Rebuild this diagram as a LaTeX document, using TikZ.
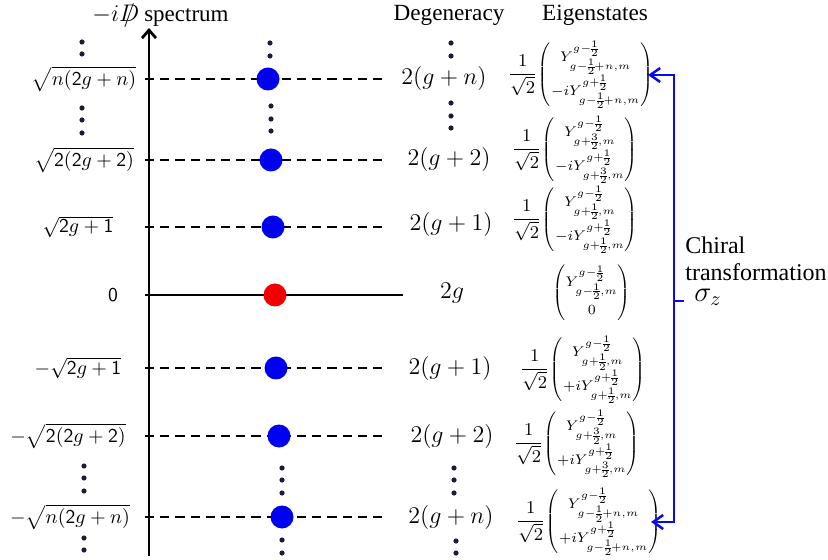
\documentclass[tikz,border=0pt]{standalone}
\usepackage{amsmath}
\usepackage{fontspec}
\setmainfont{Liberation Serif}
\usetikzlibrary{arrows.meta, positioning}
\DeclareMathSizes{6.6}{6.6}{4.6}{3.5}
\definecolor{state-blue}{HTML}{0000F2}
\definecolor{zero-red}{HTML}{F20000}
\definecolor{dot-ink}{HTML}{1C1C34}
\definecolor{chiral-blue}{HTML}{0A0AEE}
\newcommand{\Dslash}{\mathord{\ooalign{$D$\cr\hidewidth$/$\hidewidth\cr}}}
\newcommand{\halfnorm}{\mbox{\fontsize{9.5}{11}\selectfont$\dfrac{1}{\sqrt{2}}$}}
\tikzset{
  axis-edge/.style={line width=1.4pt, -{Straight Barb[length=4pt, width=7pt]}},
  level-line/.style={line width=1pt, dash pattern=on 4.6pt off 3pt},
  zero-line/.style={line width=1pt},
  state-dot/.style={circle, fill=state-blue, minimum size=11.5pt, inner sep=0pt},
  zero-dot/.style={circle, fill=zero-red, minimum size=11.5pt, inner sep=0pt},
  vdot/.style={fill=dot-ink},
  ev-label/.style={font=\fontsize{9.8}{11}\selectfont, inner sep=0pt},
  deg-label/.style={font=\fontsize{12.5}{14}\selectfont, inner sep=0pt},
  col-head/.style={font=\fontsize{11.6}{13}\selectfont, inner sep=0pt},
  eig-state/.style={font=\fontsize{6.6}{8}\selectfont\setlength{\arraycolsep}{0.4pt}%
    \setlength{\nulldelimiterspace}{0pt}\renewcommand{\arraystretch}{1.3},
    inner sep=0pt, anchor=west},
  chiral-edge/.style={line width=1.25pt, draw=chiral-blue,
    {Straight Barb[length=5pt, width=7pt]}-{Straight Barb[length=5pt, width=7pt]}},
  side-note/.style={font=\fontsize{12}{13.5}\selectfont, align=left, inner sep=0pt}
}

\begin{document}
\begin{tikzpicture}[x=0.5pt, y=-0.5pt]
  \useasboundingbox (0,0) rectangle (828,560);

  % ---- Axis and headings ---------------------------------------------------
  \coordinate (ax-bot) at (149,556);
  \coordinate (ax-top) at (149,28);
  \draw[axis-edge] (ax-bot) -- (ax-top);
  \node[anchor=base west, inner sep=0pt] (title) at (92,22)
        {{\fontsize{12.5}{14}\selectfont $-i\Dslash$} {\fontsize{11.5}{13}\selectfont spectrum}};
  \node[col-head] (deg) at (449,15) {Degeneracy};
  \node[col-head] (eig) at (595,15) {Eigenstates};

  % ---- Levels (tick on axis, end of line) ----------------------------------
  \coordinate (t-n)  at (145,79);  \coordinate (e-n)  at (386,79);
  \coordinate (t-2)  at (145,160); \coordinate (e-2)  at (383,160);
  \coordinate (t-1)  at (145,227); \coordinate (e-1)  at (383,227);
  \coordinate (t-0)  at (145,295); \coordinate (e-0)  at (403,295);
  \coordinate (t-m1) at (145,368); \coordinate (e-m1) at (383,368);
  \coordinate (t-m2) at (145,436); \coordinate (e-m2) at (383,436);
  \coordinate (t-mn) at (145,517); \coordinate (e-mn) at (384,517);
  \draw[level-line] (t-n) -- (e-n);
  \draw[level-line] (t-2) -- (e-2);
  \draw[level-line] (t-1) -- (e-1);
  \draw[zero-line]  (t-0) -- (e-0);
  \draw[level-line] (t-m1) -- (e-m1);
  \draw[level-line] (t-m2) -- (e-m2);
  \draw[level-line] (t-mn) -- (e-mn);

  % ---- States on the levels ------------------------------------------------
  \node[state-dot] (s-n)  at (268,79)  {};
  \node[state-dot] (s-2)  at (271,160) {};
  \node[state-dot] (s-1)  at (273,227) {};
  \node[zero-dot]  (s-0)  at (275,295) {};
  \node[state-dot] (s-m1) at (276,368) {};
  \node[state-dot] (s-m2) at (279,436) {};
  \node[state-dot] (s-mn) at (282,517) {};

  % ---- Eigenvalues (left margin) -------------------------------------------
  \node[ev-label] (v-n)  at (84,79)  {$\sqrt{n(\mathsf{2}g+n)}$};
  \node[ev-label] (v-2)  at (84,160) {$\sqrt{\mathsf{2}(\mathsf{2}g+\mathsf{2})}$};
  \node[ev-label] (v-1)  at (78,227) {$\sqrt{\mathsf{2}g+\mathsf{1}}$};
  \node[ev-label] (v-0)  at (113,295) {$\mathsf{0}$};
  \node[ev-label] (v-m1) at (78,368) {$-\sqrt{\mathsf{2}g+\mathsf{1}}$};
  \node[ev-label] (v-m2) at (68,436) {$-\sqrt{\mathsf{2}(\mathsf{2}g+\mathsf{2})}$};
  \node[ev-label] (v-mn) at (70,517) {$-\sqrt{n(\mathsf{2}g+n)}$};

  % ---- Degeneracies --------------------------------------------------------
  \node[deg-label] (d-n)  at (444,79)  {$2(g+n)$};
  \node[deg-label] (d-2)  at (449,160) {$2(g+2)$};
  \node[deg-label] (d-1)  at (451,225) {$2(g+1)$};
  \node[deg-label] (d-0)  at (452,293) {$2g$};
  \node[deg-label] (d-m1) at (450,368) {$2(g+1)$};
  \node[deg-label] (d-m2) at (452,436) {$2(g+2)$};
  \node[deg-label] (d-mn) at (451,517) {$2(g+n)$};

  % ---- Vertical ellipsis dots ----------------------------------------------
  \foreach \x/\y in {82/42, 82/54, 82/108, 82/120, 82/133, 84/466, 84/478,
                     84/491, 84/538, 84/550, 270/43, 270/56, 271/106, 271/119,
                     271/131, 282/468, 282/480, 282/493, 282/540, 282/553,
                     451/43, 451/56, 451/103, 451/116, 451/128, 454/468,
                     454/480, 454/493, 456/541, 456/553}
    \fill[vdot] (\x,\y) circle (2.6);

  % ---- Eigenstates ---------------------------------------------------------
  \node[eig-state] (es-n) at (510,75)
        {$\halfnorm\begin{pmatrix} Y^{g-\frac{1}{2}}_{g-\frac{1}{2}+n,m}\\ -iY^{g+\frac{1}{2}}_{g-\frac{1}{2}+n,m}\end{pmatrix}$};
  \node[eig-state] (es-2) at (514,150)
        {$\halfnorm\begin{pmatrix} Y^{g-\frac{1}{2}}_{g+\frac{3}{2},m}\\ -iY^{g+\frac{1}{2}}_{g+\frac{3}{2},m}\end{pmatrix}$};
  \node[eig-state] (es-1) at (514,220)
        {$\halfnorm\begin{pmatrix} Y^{g-\frac{1}{2}}_{g+\frac{1}{2},m}\\ -iY^{g+\frac{1}{2}}_{g+\frac{1}{2},m}\end{pmatrix}$};
  \node[eig-state] (es-0) at (552,293)
        {$\begin{pmatrix} Y^{g-\frac{1}{2}}_{g-\frac{1}{2},m}\\ 0\end{pmatrix}$};
  \node[eig-state] (es-m1) at (522,370)
        {$\halfnorm\begin{pmatrix} Y^{g-\frac{1}{2}}_{g+\frac{1}{2},m}\\ +iY^{g+\frac{1}{2}}_{g+\frac{1}{2},m}\end{pmatrix}$};
  \node[eig-state] (es-m2) at (516,444)
        {$\halfnorm\begin{pmatrix} Y^{g-\frac{1}{2}}_{g+\frac{3}{2},m}\\ +iY^{g+\frac{1}{2}}_{g+\frac{3}{2},m}\end{pmatrix}$};
  \node[eig-state] (es-mn) at (518,522)
        {$\halfnorm\begin{pmatrix} Y^{g-\frac{1}{2}}_{g-\frac{1}{2}+n,m}\\ +iY^{g+\frac{1}{2}}_{g-\frac{1}{2}+n,m}\end{pmatrix}$};

  % ---- Chiral transformation bracket ---------------------------------------
  \coordinate (ar-top) at (648,75);
  \coordinate (ch-top) at (674,75);
  \coordinate (ch-mid) at (674,301);
  \coordinate (ch-bot) at (674,522);
  \coordinate (ar-bot) at (651,522);
  \draw[chiral-edge] (ar-top) -- (ch-top) -- (ch-bot) -- (ar-bot);
  \draw[line width=1.25pt, draw=chiral-blue] (ch-mid) -- ++(10,0);
  \node[side-note, anchor=west] (chiral) at (685,259) {Chiral\\transformation};
  \node[font=\fontsize{14}{15}\selectfont, inner sep=0pt] (sigma) at (708,297) {$\sigma_z$};

\end{tikzpicture}
\end{document}
